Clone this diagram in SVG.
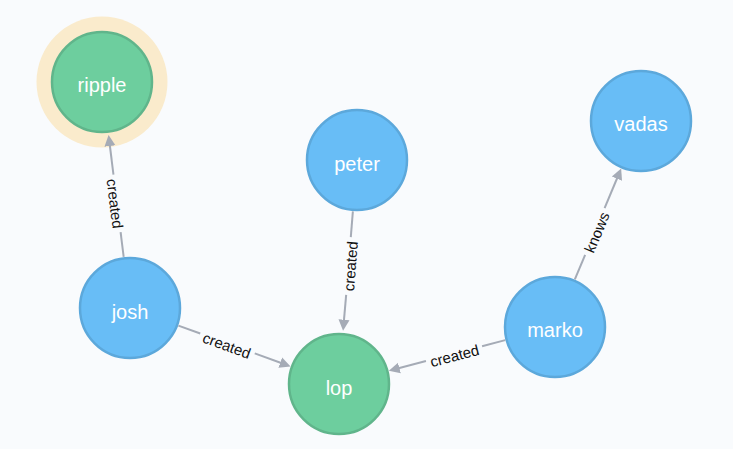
<svg xmlns="http://www.w3.org/2000/svg" width="733" height="449" viewBox="0 0 733 449">
<defs>
<marker id="arrow" markerUnits="userSpaceOnUse" markerWidth="14" markerHeight="14" viewBox="0 -7 14 14" refX="1" refY="0" orient="auto">
<path d="M0,-5.5 L11,0 L0,5.5 Z" fill="#A5ABB6"/>
</marker>
</defs>
<style>
.edge{fill:none;stroke:#A5ABB6;stroke-width:2}
.elabel{font-family:"Liberation Sans",Arial,sans-serif;font-size:15px;fill:#111;text-anchor:middle}
.person{fill:#68BDF6;stroke:#5CA8DB;stroke-width:2.5}
.software{fill:#6DCE9E;stroke:#60B58B;stroke-width:2.5}
.nlabel{font-family:"Liberation Sans",Arial,sans-serif;font-size:20px;fill:#FFFFFF;text-anchor:middle}
</style>
<rect width="733" height="449" fill="#F9FBFD"/>
<g id="node-ripple">
<circle cx="102" cy="82" r="65.5" fill="#FAEBCC"/>
<circle class="software" cx="102" cy="82" r="50"/>
<text class="nlabel" x="102" y="92">ripple</text>
</g>
<g id="node-peter">
<circle class="person" cx="357" cy="160" r="50"/>
<text class="nlabel" x="357" y="170.5">peter</text>
</g>
<g id="node-vadas">
<circle class="person" cx="641" cy="121" r="50"/>
<text class="nlabel" x="641" y="131">vadas</text>
</g>
<g id="node-josh">
<circle class="person" cx="130" cy="308" r="50"/>
<text class="nlabel" x="130" y="319">josh</text>
</g>
<g id="node-lop">
<circle class="software" cx="339" cy="384" r="50"/>
<text class="nlabel" x="339" y="394.5">lop</text>
</g>
<g id="node-marko">
<circle class="person" cx="555" cy="327" r="50"/>
<text class="nlabel" x="555" y="337">marko</text>
</g>
<g id="connectors">
<g id="e-josh-ripple">
<path class="edge" d="M123.67,256.89 L120.61,232.18"/>
<path class="edge" d="M113.47,174.62 L109.80,145.02" marker-end="url(#arrow)"/>
<text class="elabel" transform="translate(117.04,203.4) rotate(82.94)" dy="7.5">created</text>
</g>
<g id="e-peter-lop">
<path class="edge" d="M352.87,211.33 L350.80,237.09"/>
<path class="edge" d="M346.16,294.91 L343.92,320.70" marker-end="url(#arrow)"/>
<text class="elabel" transform="translate(348.48,266) rotate(-85.41)" dy="7.5">created</text>
</g>
<g id="e-josh-lop">
<path class="edge" d="M178.40,325.60 L200.25,333.54"/>
<path class="edge" d="M254.75,353.36 L281.20,362.98" marker-end="url(#arrow)"/>
<text class="elabel" transform="translate(227.5,343.45) rotate(19.98)" dy="7.5">created</text>
</g>
<g id="e-marko-lop">
<path class="edge" d="M505.20,340.14 L482.04,346.26"/>
<path class="edge" d="M425.96,361.06 L398.47,368.31" marker-end="url(#arrow)"/>
<text class="elabel" transform="translate(454,353.66) rotate(-14.8)" dy="7.5">created</text>
</g>
<g id="e-marko-vadas">
<path class="edge" d="M574.84,279.48 L585.14,254.80"/>
<path class="edge" d="M604.60,208.20 L617.31,177.75" marker-end="url(#arrow)"/>
<text class="elabel" transform="translate(594.87,231.5) rotate(-67.34)" dy="7.5">knows</text>
</g>
</g>
</svg>
